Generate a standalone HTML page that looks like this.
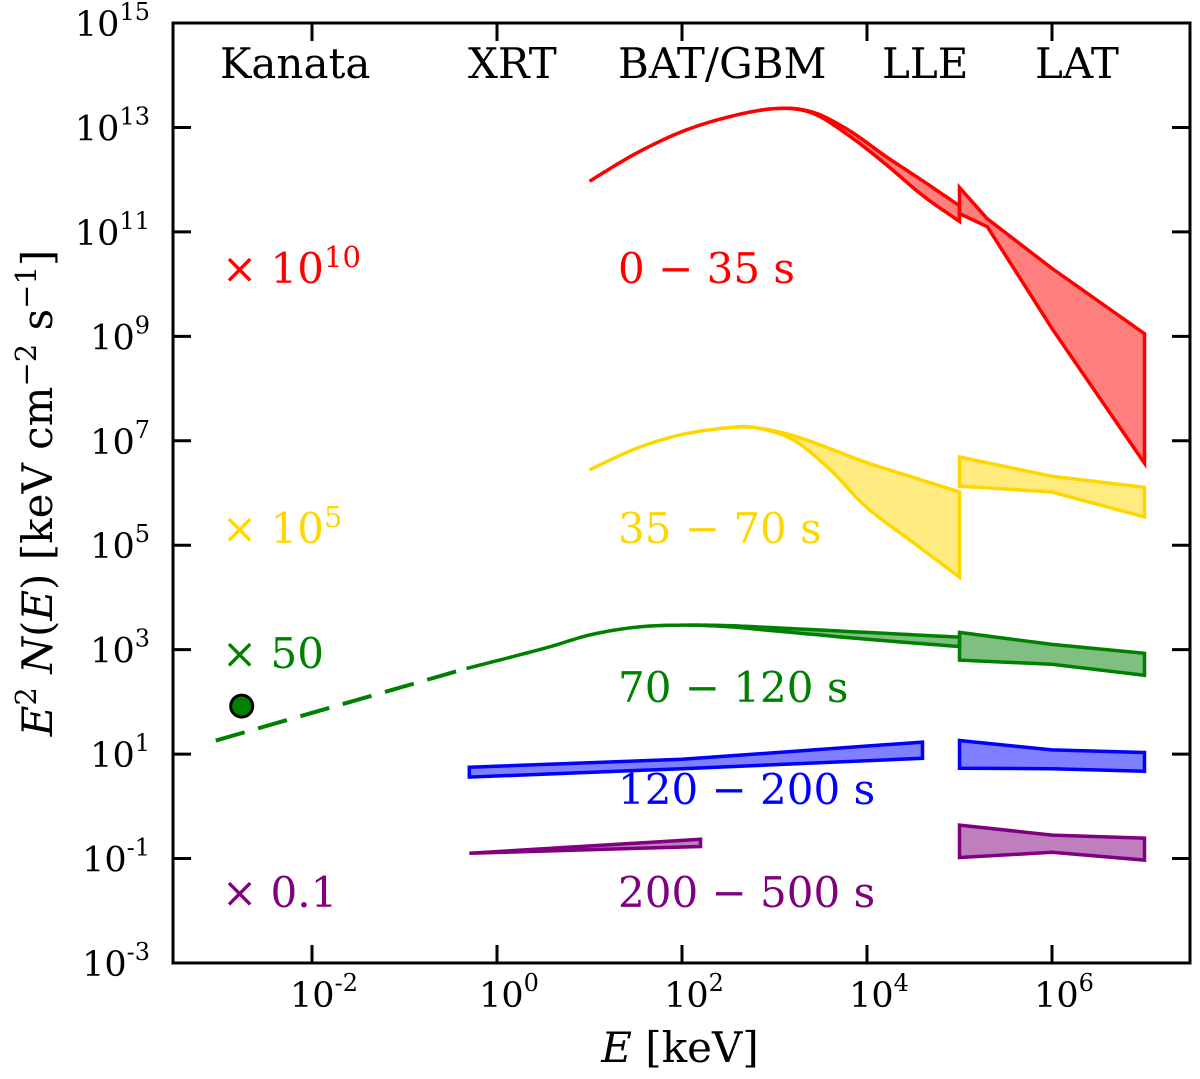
<!DOCTYPE html>
<html><head><meta charset="utf-8"><style>
body{margin:0;background:#fff}
svg text{font-family:"DejaVu Serif","Liberation Serif",serif}
</style></head><body>
<svg id="chart" width="1200" height="1074" viewBox="0 0 1200 1074" xmlns="http://www.w3.org/2000/svg"></svg>
<script>
const xTicks=[-2,0,2,4,6];
const yTicks=[-3,-1,1,3,5,7,9,11,13,15];
// bands: [logE, logUpper, logLower]
const redBAT=[[1,11.97,11.97],[1.5,12.5,12.5],[2,12.92,12.92],[2.5,13.2,13.2],[3,13.36,13.36],[3.4,13.3,13.28],[3.8,12.95,12.85],[4.2,12.45,12.3],[4.6,11.98,11.7],[5,11.5,11.2]];
const redLAT=[[5,11.85,11.35],[5.3,11.25,11.1],[6,10.3,9.15],[7,9.05,6.57]];
const yelBAT=[[1,6.44,6.44],[1.5,6.85,6.85],[2,7.12,7.12],[2.5,7.25,7.25],[2.8,7.25,7.25],[3.2,7.1,7.02],[3.6,6.85,6.45],[4,6.58,5.72],[4.5,6.3,5.05],[5,6.02,4.39]];
const yelLAT=[[5,6.69,6.13],[6,6.32,6.02],[7,6.11,5.54]];
const grnDash=[[-3.04,1.26],[-0.33,2.64]];
const grnBAT=[[-0.33,2.64,2.64],[0.5,3.02,3.02],[1,3.28,3.28],[1.5,3.43,3.43],[2,3.47,3.47],[2.5,3.46,3.44],[3,3.42,3.36],[4,3.33,3.2],[5,3.24,3.06]];
const grnLAT=[[5,3.33,2.8],[6,3.1,2.72],[7,2.93,2.51]];
const grnPoint=[[-2.76,1.92]];
const bluBAT=[[-0.3,0.75,0.56],[2,0.9,0.72],[4.6,1.23,0.92]];
const bluLAT=[[5,1.26,0.73],[6,1.08,0.72],[7,1.03,0.67]];
const purBAT=[[-0.3,-0.9,-0.9],[2.2,-0.63,-0.77]];
const purLAT=[[5,-0.36,-0.98],[6,-0.55,-0.88],[7,-0.61,-1.03]];

const L=173,R=1190,T=23,B=963;
const X=v=>497+(v-0)*92.5;
const Y=v=>T+(15-v)*(B-T)/18;
const svg=document.getElementById('chart');
const NS='http://www.w3.org/2000/svg';
function mk(tag,attrs,name){const e=document.createElementNS(NS,tag);for(const k in attrs)e.setAttribute(k,attrs[k]);


svg.appendChild(e);return e;}
function smooth(pts){
 if(pts.length<5)return pts;
 const out=[];
 for(let i=0;i<pts.length-1;i++){
  const p0=pts[Math.max(0,i-1)],p1=pts[i],p2=pts[i+1],p3=pts[Math.min(pts.length-1,i+2)];
  for(let s=0;s<10;s++){const t=s/10,t2=t*t,t3=t2*t;
   const f=(a,b,c,d)=>0.5*((2*b)+(-a+c)*t+(2*a-5*b+4*c-d)*t2+(-a+3*b-3*c+d)*t3);
   out.push([f(p0[0],p1[0],p2[0],p3[0]),f(p0[1],p1[1],p2[1],p3[1])]);}
 }
 out.push(pts[pts.length-1]);return out;
}
function band(data,color,name){
 const up=smooth(data.map(d=>[X(d[0]),Y(d[1])]));
 const lo=smooth(data.map(d=>[X(d[0]),Y(d[2])])).reverse();
 mk('polygon',{points:up.concat(lo).map(p=>p[0].toFixed(1)+','+p[1].toFixed(1)).join(' '),fill:color,'fill-opacity':0.5,stroke:color,'stroke-width':3.5,'stroke-linejoin':'miter','stroke-miterlimit':10},name);
}
band(redBAT,'#ff0000','red-bat-band');band(redLAT,'#ff0000','red-lat-band');
band(yelBAT,'#ffd700','yellow-bat-band');band(yelLAT,'#ffd700','yellow-lat-band');
band(grnBAT,'#008000','green-bat-band');band(grnLAT,'#008000','green-lat-band');
band(bluBAT,'#0000ff','blue-bat-band');band(bluLAT,'#0000ff','blue-lat-band');
band(purBAT,'#800080','purple-bat-band');band(purLAT,'#800080','purple-lat-band');
mk('polyline',{points:grnDash.map(d=>X(d[0])+','+Y(d[1])).join(' '),fill:'none',stroke:'#008000','stroke-width':4,'stroke-dasharray':'30,14'},'green-dashed-extrapolation');
grnPoint.forEach(p=>mk('circle',{cx:X(p[0]),cy:Y(p[1]),r:11,fill:'#008000',stroke:'#000','stroke-width':3},'kanata-point'));
mk('rect',{x:L,y:T,width:R-L,height:B-T,fill:'none',stroke:'#000','stroke-width':3},'plot-frame');
xTicks.forEach(t=>{const x=X(t);
 mk('line',{x1:x,y1:B,x2:x,y2:B-18,stroke:'#000','stroke-width':3},'x-tick');
 mk('line',{x1:x,y1:T,x2:x,y2:T+18,stroke:'#000','stroke-width':3},'x-tick-top');
 const tx=mk('text',{x:x+12,y:1007,'font-size':35,'text-anchor':'middle'},'x-tick-label');
 tx.innerHTML='10<tspan font-size="24" dy="-16">'+t+'</tspan>';});
yTicks.forEach(t=>{const y=Y(t);
 mk('line',{x1:L,y1:y,x2:L+18,y2:y,stroke:'#000','stroke-width':3},'y-tick');
 mk('line',{x1:R,y1:y,x2:R-18,y2:y,stroke:'#000','stroke-width':3},'y-tick-right');
 const tx=mk('text',{x:150,y:y+13,'font-size':35,'text-anchor':'end'},'y-tick-label');
 tx.innerHTML='10<tspan font-size="24" dy="-16">'+t+'</tspan>';});
function txt(x,y,s,c,size,name,anchor){const e=mk('text',{x:x,y:y,'font-size':size,fill:c,'text-anchor':anchor||'start'},name);e.innerHTML=s;return e;}
txt(220,78,'Kanata','#000',42,'label-kanata');
txt(468,78,'XRT','#000',42,'label-xrt');
txt(618,78,'BAT/GBM','#000',42,'label-bat-gbm');
txt(882,78,'LLE','#000',42,'label-lle');
txt(1035,78,'LAT','#000',42,'label-lat');
txt(222,283,'× 10<tspan font-size="29" dy="-16">10</tspan>','#ff0000',42,'scale-red');
txt(222,543,'× 10<tspan font-size="29" dy="-16">5</tspan>','#ffd700',42,'scale-yellow');
txt(222,668,'× 50','#008000',42,'scale-green');
txt(222,907,'× 0.1','#800080',42,'scale-purple');
txt(618,283,'0 − 35 s','#ff0000',42,'time-red');
txt(618,543,'35 − 70 s','#ffd700',42,'time-yellow');
txt(618,702,'70 − 120 s','#008000',42,'time-green');
txt(618,804,'120 − 200 s','#0000ff',42,'time-blue');
txt(618,907,'200 − 500 s','#800080',42,'time-purple');
txt(680,1062,'<tspan font-style="italic">E</tspan>  [keV]','#000',42,'x-axis-title','middle');
const yt=mk('text',{x:0,y:0,'font-size':42,'text-anchor':'middle',transform:'translate(52,493) rotate(-90)'},'y-axis-title');
yt.innerHTML='<tspan font-style="italic">E</tspan><tspan font-size="29" dy="-16">2</tspan><tspan dy="16"> </tspan><tspan font-style="italic">N</tspan>(<tspan font-style="italic">E</tspan>)  [keV cm<tspan font-size="29" dy="-16">−2</tspan><tspan dy="16"> s</tspan><tspan font-size="29" dy="-16">−1</tspan><tspan dy="16">]</tspan>';
</script>
</body></html>
